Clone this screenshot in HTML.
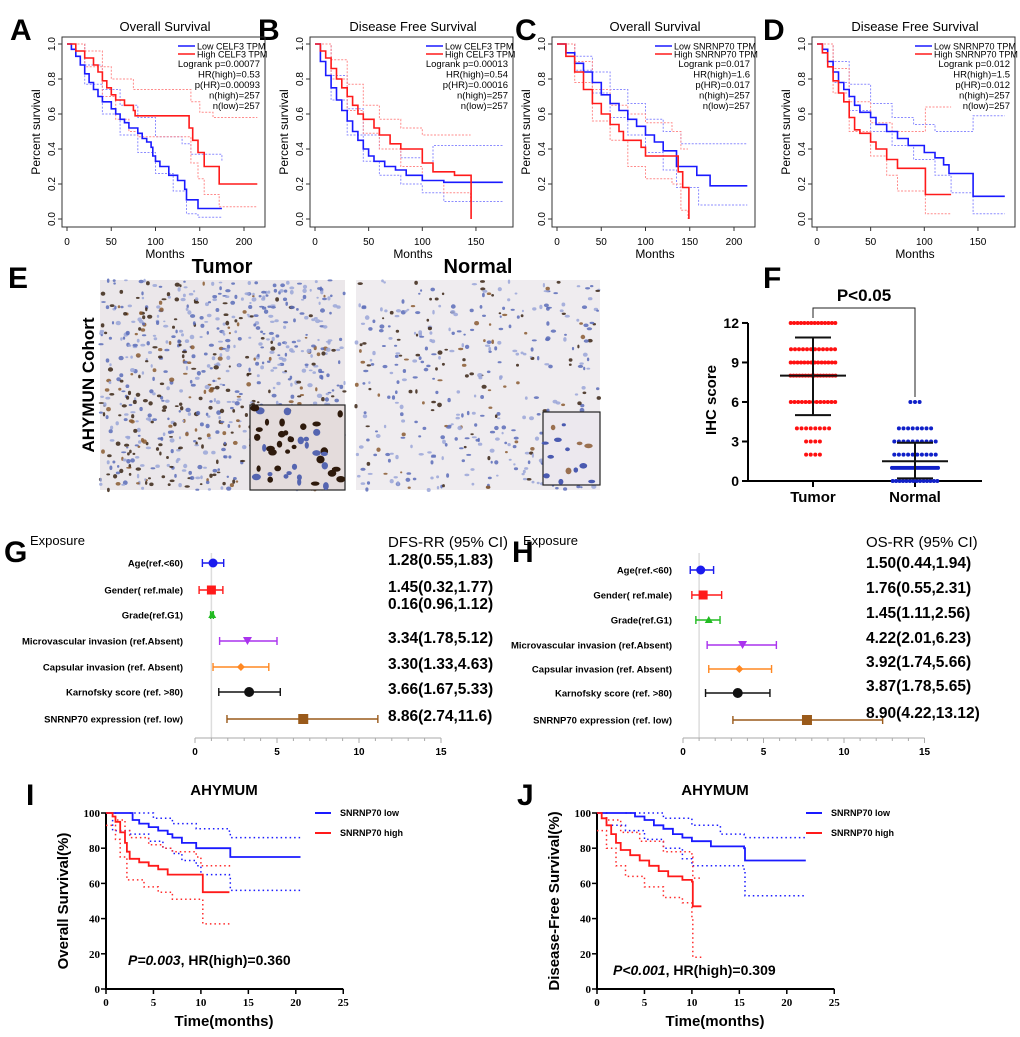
<!DOCTYPE html>
<html><head><meta charset="utf-8">
<style>
html,body{margin:0;padding:0;background:#fff;}
svg{display:block;font-family:"Liberation Sans",Arial,sans-serif;}
.b{font-weight:bold}
</style></head>
<body>
<svg id="fig" width="1020" height="1037" viewBox="0 0 1020 1037" xmlns="http://www.w3.org/2000/svg">
<rect width="1020" height="1037" fill="#fff"/>
<g id="panelE">
  <rect x="100" y="280" width="245" height="210" fill="#ebe7ea"/>
  <rect x="356" y="280" width="244" height="210" fill="#efecef"/>
  <g id="texT"></g><g id="texN"></g>
  <rect x="250" y="405" width="95" height="85" fill="#e4dcdc" stroke="#222" stroke-width="1.2"/>
  <rect x="543" y="412" width="57" height="73" fill="#ece8ee" stroke="#222" stroke-width="1.2"/>
  <g id="texI"></g>
  <text x="222" y="273" font-size="20" class="b" text-anchor="middle">Tumor</text>
  <text x="478" y="273" font-size="20" class="b" text-anchor="middle">Normal</text>
  <text transform="translate(94,385) rotate(-90)" font-size="17" class="b" text-anchor="middle">AHYMUN Cohort</text>
</g>
<g id="root"></g>
</svg>
<script>
// ---------- Panel A-D survival data ----------
const aLow=[[0,1],[5,0.97],[10,0.93],[15,0.88],[20,0.83],[25,0.78],[30,0.74],[35,0.7],[40,0.67],[50,0.63],[55,0.6],[60,0.57],[65,0.55],[70,0.52],[80,0.49],[85,0.46],[90,0.44],[95,0.41],[97,0.36],[100,0.33],[105,0.3],[115,0.25],[125,0.22],[133,0.17],[135,0.11],[148,0.06],[175,0.06]];
const aHigh=[[0,1],[10,0.96],[20,0.92],[30,0.88],[35,0.84],[40,0.79],[45,0.75],[50,0.71],[55,0.68],[65,0.65],[75,0.62],[77,0.59],[137,0.59],[138,0.52],[142,0.45],[148,0.38],[155,0.3],[172,0.2],[215,0.2]];
const aLowU=[[0,1],[20,0.88],[40,0.74],[60,0.65],[80,0.58],[100,0.47],[130,0.43],[140,0.37],[175,0.33]];
const aLowL=[[0,1],[20,0.77],[40,0.6],[60,0.48],[80,0.38],[100,0.26],[120,0.16],[135,0.03],[148,0.01],[175,0.01]];
const aHighU=[[0,1],[20,0.96],[40,0.87],[50,0.8],[75,0.74],[135,0.74],[140,0.67],[150,0.61],[165,0.58],[215,0.58]];
const aHighL=[[0,1],[20,0.87],[40,0.7],[55,0.57],[70,0.5],[80,0.47],[135,0.47],[140,0.32],[148,0.23],[155,0.14],[172,0.07],[215,0.07]];

const bLow=[[0,1],[5,0.9],[10,0.82],[15,0.75],[20,0.68],[25,0.62],[30,0.56],[35,0.5],[40,0.45],[45,0.4],[50,0.36],[55,0.33],[65,0.3],[75,0.28],[85,0.25],[100,0.22],[120,0.21],[175,0.21]];
const bHigh=[[0,1],[5,0.96],[10,0.92],[15,0.86],[20,0.8],[25,0.75],[30,0.7],[35,0.65],[40,0.6],[45,0.57],[55,0.52],[60,0.48],[70,0.43],[80,0.4],[100,0.32],[110,0.27],[130,0.25],[145,0.25],[145.5,0]];
const bLowU=[[0,1],[15,0.82],[30,0.63],[45,0.48],[60,0.4],[80,0.35],[100,0.32],[110,0.42],[175,0.42]];
const bLowL=[[0,1],[15,0.68],[30,0.48],[45,0.33],[60,0.25],[80,0.2],[100,0.15],[120,0.1],[175,0.1]];
const bHighU=[[0,1],[15,0.91],[30,0.77],[45,0.65],[60,0.57],[80,0.52],[100,0.48],[145,0.48]];
const bHighL=[[0,1],[15,0.8],[30,0.62],[45,0.49],[60,0.4],[80,0.3],[100,0.22],[120,0.15],[145,0.1]];

const cLow=[[0,1],[10,0.95],[20,0.89],[30,0.84],[40,0.78],[50,0.71],[60,0.66],[70,0.62],[80,0.57],[90,0.53],[100,0.48],[110,0.44],[120,0.39],[135,0.3],[158,0.25],[173,0.19],[215,0.19]];
const cHigh=[[0,1],[10,0.93],[20,0.84],[30,0.74],[40,0.66],[50,0.6],[60,0.54],[70,0.5],[75,0.45],[95,0.41],[100,0.36],[135,0.36],[137,0.27],[142,0.18],[148,0.18],[149,0]];
const cLowU=[[0,1],[20,0.93],[40,0.84],[60,0.74],[80,0.66],[100,0.57],[120,0.5],[140,0.43],[215,0.43]];
const cLowL=[[0,1],[20,0.85],[40,0.72],[60,0.58],[80,0.48],[100,0.38],[120,0.28],[135,0.18],[160,0.08],[215,0.08]];
const cHighU=[[0,1],[20,0.9],[40,0.74],[60,0.65],[80,0.6],[100,0.55],[130,0.5],[140,0.4],[148,0.4]];
const cHighL=[[0,1],[20,0.78],[40,0.56],[60,0.45],[80,0.3],[100,0.23],[130,0.2],[140,0.05],[148,0]];

const dLow=[[0,1],[5,0.97],[10,0.9],[15,0.84],[20,0.78],[25,0.74],[30,0.7],[35,0.65],[40,0.61],[50,0.58],[55,0.54],[65,0.5],[75,0.46],[85,0.42],[100,0.38],[110,0.35],[118,0.31],[123,0.26],[145,0.26],[145.5,0.13],[175,0.13]];
const dHigh=[[0,1],[5,0.95],[10,0.87],[15,0.79],[20,0.72],[25,0.67],[30,0.58],[35,0.51],[40,0.49],[50,0.44],[55,0.4],[65,0.34],[75,0.29],[100,0.29],[101,0.14],[125,0.14]];
const dLowU=[[0,1],[15,0.9],[30,0.77],[50,0.66],[70,0.58],[90,0.54],[110,0.5],[145,0.5],[145.5,0.59],[175,0.59]];
const dLowL=[[0,1],[15,0.78],[30,0.62],[50,0.5],[70,0.42],[90,0.34],[110,0.25],[125,0.15],[145,0.15],[145.5,0.03],[175,0.03]];
const dHighU=[[0,1],[15,0.86],[30,0.67],[50,0.55],[70,0.5],[100,0.5],[101,0.64],[125,0.64]];
const dHighL=[[0,1],[15,0.72],[30,0.5],[50,0.36],[65,0.25],[75,0.16],[100,0.16],[101,0.03],[125,0.03]];

// ---------- Panel F data ----------
const fScores=[12,10,9,8,6,4,3,2,1,0];
const fTumorCounts=[14,12,14,16,13,8,4,4,0,0];
const fNormalCounts=[0,0,0,0,3,8,10,10,24,14];
const fTumorStats=[8.0,5.0,10.9];
const fNormalStats=[1.5,0.2,2.9];
const fTicks=[0,3,6,9,12];

// ---------- Forest G/H data ----------
const forestLabels=["Age(ref.<60)","Gender( ref.male)","Grade(ref.G1)","Microvascular invasion (ref.Absent)","Capsular invasion (ref. Absent)","Karnofsky score (ref. >80)","SNRNP70 expression (ref. low)"];
const gEst=[1.1,1.0,1.05,3.2,2.8,3.3,6.6];
const gLo=[0.45,0.25,0.95,1.5,1.1,1.45,1.95];
const gHi=[1.75,1.7,1.12,5.0,4.5,5.2,11.15];
const gText=["1.28(0.55,1.83)","1.45(0.32,1.77)","0.16(0.96,1.12)","3.34(1.78,5.12)","3.30(1.33,4.63)","3.66(1.67,5.33)","8.86(2.74,11.6)"];
const hEst=[1.1,1.25,1.6,3.7,3.5,3.4,7.7];
const hLo=[0.45,0.55,0.8,1.5,1.6,1.4,3.1];
const hHi=[1.9,2.4,2.3,5.8,5.5,5.4,12.4];
const hText=["1.50(0.44,1.94)","1.76(0.55,2.31)","1.45(1.11,2.56)","4.22(2.01,6.23)","3.92(1.74,5.66)","3.87(1.78,5.65)","8.90(4.22,13.12)"];
const forestTicks=[0,5,10,15];

// ---------- Panel I/J data ----------
const iLow=[[0,100],[2.5,100],[2.8,96],[3.5,94],[4.5,92],[5.5,90],[6.5,88],[7,86],[8,83],[9.5,80],[13,80],[13.1,75],[20.5,75]];
const iHigh=[[0,100],[0.7,98],[1,95],[1.5,89],[2,83],[2.2,78],[2.5,74],[3.5,72],[4.5,70],[5.5,68],[6.5,65],[10,65],[10.2,55],[13,55]];
const iLowU=[[2.5,100],[5,97],[7,94],[9.5,91],[13,89],[13.1,86],[20.5,86]];
const iLowL=[[0,100],[0.7,90],[2.5,88],[4.5,84],[6,80],[7,77],[8,73],[9.5,70],[10,65],[13,64],[13.1,56],[20.5,56]];
const iHighU=[[0,100],[1,96],[2,90],[2.5,86],[4.5,82],[6,80],[7,78],[9.5,75],[10,70],[13,69]];
const iHighL=[[0,93],[1,85],[1.5,75],[2.2,62],[4,58],[5.5,55],[7,51],[10,51],[10.2,37],[13,37]];
const jLow=[[0,100],[3,100],[4,98],[5,96],[6,93],[7,91],[8,88],[9,86],[10,84],[12,81],[15.5,80],[15.6,73],[22,73]];
const jHigh=[[0,100],[0.5,97],[1,93],[1.5,88],[2,83],[2.5,79],[3.5,76],[4.5,73],[5.5,70],[6.5,67],[7.5,64],[9,62],[10,61],[10.1,47],[11,47]];
const jLowU=[[3,100],[7,97],[10,93],[13,88],[15.5,86],[22,85]];
const jLowL=[[0,100],[1,93],[3,90],[5,85],[7,80],[9,74],[10,70],[15.5,67],[15.6,53],[22,53]];
const jHighU=[[0,100],[1,96],[2.5,89],[4.5,84],[7,78],[10,75],[10.1,63],[11,63]];
const jHighL=[[0,90],[1,80],[2,70],[3,64],[5,58],[7,52],[9,49],[10,40],[10.1,18],[11,18]];
const kmTicksX=[0,5,10,15,20,25];
const kmTicksY=[0,20,40,60,80,100];

const NS="http://www.w3.org/2000/svg";
const root=document.getElementById('root');
function mk(tag,attrs,parent,txt){const e=document.createElementNS(NS,tag);for(const k in attrs)e.setAttribute(k,attrs[k]);if(txt!==undefined)e.textContent=txt;(parent||root).appendChild(e);return e;}
function stepPath(pts,sx,sy){let d='M'+sx(pts[0][0])+' '+sy(pts[0][1]);for(let i=1;i<pts.length;i++){d+=' H'+sx(pts[i][0]).toFixed(1)+' V'+sy(pts[i][1]).toFixed(1);}return d;}

// ---------- texture for IHC images (deterministic) ----------
let seed=12345;function rnd(){seed=(seed*1103515245+12345)%2147483648;return seed/2147483648;}
function texture(g,x0,y0,w,h,n,brownFrac,brownBias){
  for(let i=0;i<n;i++){
    const x=x0+rnd()*w,y=y0+rnd()*h;
    let brown=rnd()<brownFrac;
    if(brownBias&&brown){const f=(y-y0)/h+(1-(x-x0)/w)*0.6;if(rnd()>f*0.9)brown=false;}
    const c=brown?(rnd()<0.7?'#3a2414':'#8a5a30'):(rnd()<0.5?'#5a6cb8':'#9aa6d8');
    mk('ellipse',{cx:x.toFixed(1),cy:y.toFixed(1),rx:(1.1+rnd()*1.6).toFixed(1),ry:(0.9+rnd()*1.4).toFixed(1),fill:c,opacity:0.85},g);
  }
}
texture(document.getElementById('texT'),100,280,245,210,800,0.45,true);
texture(document.getElementById('texN'),356,280,244,210,420,0.25,false);
(function(){const g=document.getElementById('texI');
  for(let i=0;i<45;i++){mk('ellipse',{cx:(252+rnd()*91).toFixed(1),cy:(407+rnd()*81).toFixed(1),rx:(2+rnd()*2.5).toFixed(1),ry:(2+rnd()*2).toFixed(1),fill:rnd()<0.6?'#2e1a0c':'#5565b0'},g);}
  for(let i=0;i<14;i++){mk('ellipse',{cx:(545+rnd()*53).toFixed(1),cy:(414+rnd()*69).toFixed(1),rx:(2+rnd()*2.5).toFixed(1),ry:(1.5+rnd()*2).toFixed(1),fill:rnd()<0.3?'#9a7050':'#4a5ab0'},g);}
})();

// ---------- panel letters ----------
const letters=[["A",10,40],["B",258,40],["C",515,40],["D",763,40],["E",8,288],["F",763,288],["G",4,562],["H",512,562],["I",26,805],["J",517,805]];
letters.forEach(l=>{const t=mk('text',{x:l[1],y:l[2],'font-size':30,'font-weight':'bold'},root,l[0]);

});

// ---------- survival panels ----------
function survPanel(cfg){
  const g=mk('g',{});
  
  
  const x0=cfg.x0,sc=cfg.sc,y1=44,y0=219;
  const sx=t=>x0+t*sc, sy=s=>y0-(y0-y1)*s;
  const box=mk('rect',{x:x0-5,y:37,width:203,height:190,fill:'none',stroke:'#333','stroke-width':1},g);
  
  
  const tt=mk('text',{x:x0+98,y:31,'font-size':13,'text-anchor':'middle'},g,cfg.title);
  
  
  [0,0.2,0.4,0.6,0.8,1.0].forEach(v=>{
    mk('line',{x1:x0-5,x2:x0-9,y1:sy(v),y2:sy(v),stroke:'#333'},g);
    const t=mk('text',{transform:`translate(${x0-12},${sy(v)}) rotate(-90)`,'font-size':10,'text-anchor':'middle'},g,v.toFixed(1));
    
    
  });
  cfg.xt.forEach(v=>{
    mk('line',{x1:sx(v),x2:sx(v),y1:227,y2:231,stroke:'#333'},g);
    const t=mk('text',{x:sx(v),y:245,'font-size':10,'text-anchor':'middle'},g,String(v));
    
    
  });
  const yl=mk('text',{transform:`translate(${x0-27},132) rotate(-90)`,'font-size':12,'text-anchor':'middle'},g,'Percent survival');
  
  
  const xl=mk('text',{x:x0+98,y:258,'font-size':12,'text-anchor':'middle'},g,'Months');
  
  
  [[cfg.lowU,'#8c8cff'],[cfg.lowL,'#8c8cff'],[cfg.highU,'#ff8c8c'],[cfg.highL,'#ff8c8c']].forEach(c=>{
    const p=mk('path',{d:stepPath(c[0],sx,sy),fill:'none',stroke:c[1],'stroke-width':1,'stroke-dasharray':'2,1.5'},g);
    
    
  });
  const pl=mk('path',{d:stepPath(cfg.low,sx,sy),fill:'none',stroke:'#1a1aff','stroke-width':1.6},g);
  
  
  const ph=mk('path',{d:stepPath(cfg.high,sx,sy),fill:'none',stroke:'#ff1a1a','stroke-width':1.6},g);
  
  
  const lx=x0+cfg.lgx;
  mk('line',{x1:lx,x2:lx+17,y1:46,y2:46,stroke:'#1a1aff','stroke-width':1.6},g);
  mk('line',{x1:lx,x2:lx+17,y1:54,y2:54,stroke:'#ff1a1a','stroke-width':1.6},g);
  const le1=mk('text',{x:lx+19,y:49.5,'font-size':9},g,cfg.lowLbl);
  
  
  const le2=mk('text',{x:lx+19,y:57.5,'font-size':9},g,cfg.highLbl);
  
  
  cfg.stats.forEach((s,i)=>{
    const t=mk('text',{x:x0+193,y:67+i*10.5,'font-size':9.5,'text-anchor':'end'},g,s);
    
    
  });
}
survPanel({name:'panel-a-os-celf3',x0:67,sc:0.885,lgx:111,xt:[0,50,100,150,200],title:'Overall Survival',low:aLow,high:aHigh,lowU:aLowU,lowL:aLowL,highU:aHighU,highL:aHighL,lowLbl:'Low CELF3 TPM',highLbl:'High CELF3 TPM',stats:['Logrank p=0.00077','HR(high)=0.53','p(HR)=0.00093','n(high)=257','n(low)=257']});
survPanel({name:'panel-b-dfs-celf3',x0:315,sc:1.073,lgx:111,xt:[0,50,100,150],title:'Disease Free Survival',low:bLow,high:bHigh,lowU:bLowU,lowL:bLowL,highU:bHighU,highL:bHighL,lowLbl:'Low CELF3 TPM',highLbl:'High CELF3 TPM',stats:['Logrank p=0.00013','HR(high)=0.54','p(HR)=0.00016','n(high)=257','n(low)=257']});
survPanel({name:'panel-c-os-snrnp70',x0:557,sc:0.885,lgx:98,xt:[0,50,100,150,200],title:'Overall Survival',low:cLow,high:cHigh,lowU:cLowU,lowL:cLowL,highU:cHighU,highL:cHighL,lowLbl:'Low SNRNP70 TPM',highLbl:'High SNRNP70 TPM',stats:['Logrank p=0.017','HR(high)=1.6','p(HR)=0.017','n(high)=257','n(low)=257']});
survPanel({name:'panel-d-dfs-snrnp70',x0:817,sc:1.073,lgx:98,xt:[0,50,100,150],title:'Disease Free Survival',low:dLow,high:dHigh,lowU:dLowU,lowL:dLowL,highU:dHighU,highL:dHighL,lowLbl:'Low SNRNP70 TPM',highLbl:'High SNRNP70 TPM',stats:['Logrank p=0.012','HR(high)=1.5','p(HR)=0.012','n(high)=257','n(low)=257']});

// ---------- Panel F ----------
(function(){
  const g=mk('g',{});
  
  
  const fy=v=>481-v*13.17;
  const cx=[813,915];
  mk('line',{x1:748,x2:748,y1:fy(12),y2:481,stroke:'#000','stroke-width':2},g);
  mk('line',{x1:747,x2:982,y1:481,y2:481,stroke:'#000','stroke-width':2},g);
  fTicks.forEach(v=>{
    mk('line',{x1:742,x2:748,y1:fy(v),y2:fy(v),stroke:'#000','stroke-width':2},g);
    const t=mk('text',{x:739,y:fy(v)+5,'font-size':14,'font-weight':'bold','text-anchor':'end'},g,String(v));
    
    
  });
  cx.forEach(c=>mk('line',{x1:c,x2:c,y1:481,y2:487,stroke:'#000','stroke-width':2},g));
  const yl=mk('text',{transform:'translate(716,400) rotate(-90)','font-size':15,'font-weight':'bold','text-anchor':'middle'},g,'IHC score');
  
  
  ['Tumor','Normal'].forEach((n,i)=>{
    const t=mk('text',{x:cx[i],y:502,'font-size':15,'font-weight':'bold','text-anchor':'middle'},g,n);
    
    
  });
  [[fTumorCounts,'#ff1010',0],[fNormalCounts,'#1020c8',1]].forEach(s=>{
    fScores.forEach((sc,k)=>{
      const n=s[0][k];if(!n)return;
      const sp=Math.min(4.6,48/n);
      for(let j=0;j<n;j++){
        const d=mk('circle',{cx:(cx[s[2]]+(j-(n-1)/2)*sp).toFixed(1),cy:fy(sc),r:2,fill:s[1]},g);
        
        
      }
    });
  });
  [[fTumorStats,0],[fNormalStats,1]].forEach(s=>{
    const c=cx[s[1]],st=s[0];
    const e=mk('path',{d:`M${c} ${fy(st[1])} V${fy(st[2])} M${c-18} ${fy(st[1])} H${c+18} M${c-18} ${fy(st[2])} H${c+18} M${c-33} ${fy(st[0])} H${c+33}`,stroke:'#111','stroke-width':2,fill:'none'},g);
    
    
  });
  mk('path',{d:`M${cx[0]} 318 V308 H${cx[1]} V397`,stroke:'#222','stroke-width':1,fill:'none'},g);
  const p=mk('text',{x:864,y:301,'font-size':17,'font-weight':'bold','text-anchor':'middle'},g,'P<0.05');
  
  
})();

// ---------- Forest panels ----------
function forest(cfg){
  const g=mk('g',{});
  
  
  const sx=v=>cfg.x0+v*cfg.sc;
  const rows=cfg.rows;
  mk('line',{x1:sx(1),x2:sx(1),y1:553,y2:738,stroke:'#ddd','stroke-width':1.5},g);
  mk('line',{x1:sx(0),x2:sx(15),y1:738,y2:738,stroke:'#aaa','stroke-width':1},g);
  for(let v=0;v<=15;v++) mk('line',{x1:sx(v),x2:sx(v),y1:738,y2:v%5?741:743,stroke:'#aaa'},g);
  forestTicks.forEach(v=>{
    const t=mk('text',{x:sx(v),y:755,'font-size':10,'font-weight':'bold','text-anchor':'middle'},g,String(v));
    
    
  });
  const ex=mk('text',{x:cfg.exX,y:545,'font-size':13},g,'Exposure');
  
  
  const hd=mk('text',{x:cfg.txX,y:547,'font-size':15},g,cfg.head);
  
  
  const cols=['#1a1aee','#ff1a1a','#22bb22','#aa33ee','#ff8822','#111','#9a5a1a'];
  forestLabels.forEach((lb,i)=>{
    const y=rows[i];
    const l=mk('text',{x:cfg.lblX,y:y+3.5,'font-size':9.5,'font-weight':'bold','text-anchor':'end'},g,lb);
    
    
    const c=cols[i];
    const ci=mk('path',{d:`M${sx(cfg.lo[i])} ${y} H${sx(cfg.hi[i])} M${sx(cfg.lo[i])} ${y-4} V${y+4} M${sx(cfg.hi[i])} ${y-4} V${y+4}`,stroke:c,'stroke-width':1.4,fill:'none'},g);
    
    
    const x=sx(cfg.est[i]);let m;
    if(i===0||i===5) m=mk('circle',{cx:x,cy:y,r:i===5?5:4.5,fill:c},g);
    else if(i===1) m=mk('rect',{x:x-4.5,y:y-4.5,width:9,height:9,fill:c},g);
    else if(i===6) m=mk('rect',{x:x-5,y:y-5,width:10,height:10,fill:c},g);
    else if(i===2) m=mk('path',{d:`M${x} ${y-4} L${x+4} ${y+3} H${x-4}Z`,fill:c},g);
    else if(i===3) m=mk('path',{d:`M${x-4.5} ${y-4} H${x+4.5} L${x} ${y+4}Z`,fill:c},g);
    else m=mk('path',{d:`M${x} ${y-4} L${x+4} ${y} L${x} ${y+4} L${x-4} ${y}Z`,fill:c},g);
    
    
    const v=mk('text',{x:cfg.txX,y:y+cfg.txDy[i],'font-size':15.5,'font-weight':'bold'},g,cfg.text[i]);
    
    
  });
}
forest({name:'panel-g-dfs-forest',x0:195,sc:16.4,rows:[563,590,615,641,667,692,719],lblX:183,exX:30,txX:388,head:'DFS-RR (95% CI)',est:gEst,lo:gLo,hi:gHi,text:gText,txDy:[2,2,-6,2,2,2,2]});
forest({name:'panel-h-os-forest',x0:683,sc:16.1,rows:[570,595,620,645,669,693,720],lblX:672,exX:523,txX:866,head:'OS-RR (95% CI)',est:hEst,lo:hLo,hi:hHi,text:hText,txDy:[-2,-2,-2,-2,-2,-2,-2]});

// ---------- KM panels I/J ----------
function km(cfg){
  const g=mk('g',{});
  
  
  const x0=cfg.x0,sc=9.49,sx=t=>x0+t*sc,sy=v=>989-v*1.76;
  mk('line',{x1:x0,x2:x0,y1:813,y2:990,stroke:'#000','stroke-width':2},g);
  mk('line',{x1:x0-1,x2:sx(25),y1:989,y2:989,stroke:'#000','stroke-width':2},g);
  kmTicksY.forEach(v=>{
    mk('line',{x1:x0-5,x2:x0,y1:sy(v),y2:sy(v),stroke:'#000','stroke-width':1.5},g);
    const t=mk('text',{x:x0-6,y:sy(v)+4,'font-size':11,'font-weight':'bold','font-family':'Liberation Serif,serif','text-anchor':'end'},g,String(v));
    
    
  });
  kmTicksX.forEach(v=>{
    mk('line',{x1:sx(v),x2:sx(v),y1:989,y2:994,stroke:'#000','stroke-width':1.5},g);
    const t=mk('text',{x:sx(v),y:1006,'font-size':11,'font-weight':'bold','font-family':'Liberation Serif,serif','text-anchor':'middle'},g,String(v));
    
    
  });
  const tt=mk('text',{x:x0+118,y:795,'font-size':15,'font-weight':'bold','text-anchor':'middle'},g,'AHYMUM');
  
  
  const yl=mk('text',{transform:`translate(${x0-38},901) rotate(-90)`,'font-size':15,'font-weight':'bold','text-anchor':'middle'},g,cfg.ylab);
  
  
  const xl=mk('text',{x:x0+118,y:1026,'font-size':15,'font-weight':'bold','text-anchor':'middle'},g,'Time(months)');
  
  
  [[cfg.lowU,'#1a1aff'],[cfg.lowL,'#1a1aff'],[cfg.highU,'#ff2a2a'],[cfg.highL,'#ff2a2a']].forEach(c=>{
    const p=mk('path',{d:stepPath(c[0],sx,sy),fill:'none',stroke:c[1],'stroke-width':1.5,'stroke-dasharray':'1.5,3'},g);
    
    
  });
  const pl=mk('path',{d:stepPath(cfg.low,sx,sy),fill:'none',stroke:'#1a1aff','stroke-width':1.8},g);
  
  
  const ph=mk('path',{d:stepPath(cfg.high,sx,sy),fill:'none',stroke:'#ff1a1a','stroke-width':1.8},g);
  
  
  const lx=x0+209;
  mk('line',{x1:lx,x2:lx+16,y1:813,y2:813,stroke:'#1a1aff','stroke-width':2},g);
  mk('line',{x1:lx,x2:lx+16,y1:833,y2:833,stroke:'#ff1a1a','stroke-width':2},g);
  const l1=mk('text',{x:lx+25,y:816,'font-size':9,'font-weight':'bold'},g,'SNRNP70 low');
  
  
  const l2=mk('text',{x:lx+25,y:836,'font-size':9,'font-weight':'bold'},g,'SNRNP70 high');
  
  
  const pt=mk('text',{x:x0+cfg.pdx,y:cfg.py,'font-size':14,'font-weight':'bold'},g);
  
  
  mk('tspan',{'font-style':'italic'},pt,cfg.p1);
  mk('tspan',{},pt,cfg.p2);
}
km({name:'panel-i-os-km',x0:106,ylab:'Overall Survival(%)',low:iLow,high:iHigh,lowU:iLowU,lowL:iLowL,highU:iHighU,highL:iHighL,pdx:22,py:965,p1:'P=0.003',p2:', HR(high)=0.360'});
km({name:'panel-j-dfs-km',x0:597,ylab:'Disease-Free Survival(%)',low:jLow,high:jHigh,lowU:jLowU,lowL:jLowL,highU:jHighU,highL:jHighL,pdx:16,py:975,p1:'P<0.001',p2:', HR(high)=0.309'});
</script>
</body></html>
